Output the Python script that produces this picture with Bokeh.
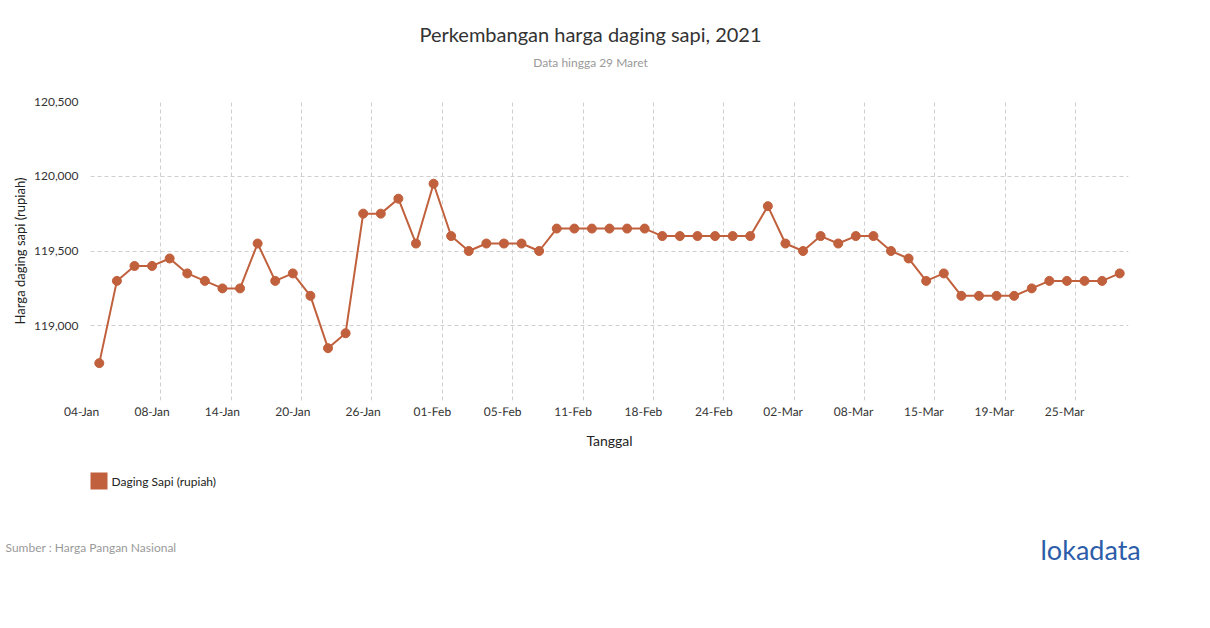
from bokeh.plotting import figure
from bokeh.models import FixedTicker, Range1d, NumeralTickFormatter
from bokeh.core.properties import value
from bokeh.embed import file_html
from bokeh.resources import INLINE

# ---- data ----
dates = [
    "04-Jan", "05-Jan", "06-Jan", "07-Jan", "08-Jan", "11-Jan", "12-Jan", "13-Jan", "14-Jan", "15-Jan",
    "18-Jan", "19-Jan", "20-Jan", "21-Jan", "22-Jan", "25-Jan", "26-Jan", "27-Jan", "28-Jan", "29-Jan",
    "01-Feb", "02-Feb", "03-Feb", "04-Feb", "05-Feb", "08-Feb", "09-Feb", "10-Feb", "11-Feb", "15-Feb",
    "16-Feb", "17-Feb", "18-Feb", "19-Feb", "22-Feb", "23-Feb", "24-Feb", "25-Feb", "26-Feb",
    "01-Mar", "02-Mar", "03-Mar", "04-Mar", "05-Mar", "08-Mar", "09-Mar", "10-Mar", "12-Mar", "15-Mar",
    "16-Mar", "17-Mar", "18-Mar", "19-Mar", "22-Mar", "23-Mar", "24-Mar", "25-Mar", "26-Mar", "29-Mar",
]
prices = [
    118750, 119300, 119400, 119400, 119450, 119350, 119300, 119250, 119250, 119550,
    119300, 119350, 119200, 118850, 118950, 119750, 119750, 119850, 119550, 119950,
    119600, 119500, 119550, 119550, 119550, 119500, 119650, 119650, 119650, 119650,
    119650, 119650, 119600, 119600, 119600, 119600, 119600, 119600, 119800, 119550,
    119500, 119600, 119550, 119600, 119600, 119500, 119450, 119300, 119350, 119200,
    119200, 119200, 119200, 119250, 119300, 119300, 119300, 119300, 119350,
]
y_ticks = [119000, 119500, 120000, 120500]
y_grid = [118500, 119000, 119500, 120000, 120500]
tick_every = 4
series_name = "Daging Sapi (rupiah)"
title_text = "Perkembangan harga daging sapi, 2021"
subtitle_text = "Data hingga 29 Maret"
x_title = "Tanggal"
y_title = "Harga daging sapi (rupiah)"
source_text = "Sumber : Harga Pangan Nasional"
brand_text = "lokadata"

COLOR = "#c1603c"
FONT = "Lato"
W = 1200
H_HEAD, H_MAIN, H_FOOT = 90, 370, 140

n = len(dates)
x = list(range(n))


def blank(h, y0):
    f = figure(width=W, height=h, output_backend="svg", toolbar_location=None,
               x_range=Range1d(0, W), y_range=Range1d(y0 + h, y0),
               x_axis_type=None, y_axis_type=None, min_border=0)
    f.outline_line_color = None
    f.grid.visible = False
    f.background_fill_color = "white"
    f.border_fill_color = "white"
    return f


def txt(f, text, x0, y0, size, color, align="left", style="normal"):
    f.text(x=[x0], y=[y0], text=[text], text_font=value(FONT), text_font_size=value(size),
           text_color=color, text_align=align, text_baseline="middle",
           text_font_style=style)


# ---- header ----
head = blank(H_HEAD, 0)
txt(head, title_text, 590, 33, "20px", "#333333", "center")
txt(head, subtitle_text, 590, 62, "12px", "#999999", "center")

# ---- main chart ----
p = figure(width=W, height=H_MAIN, output_backend="svg", toolbar_location=None,
           x_range=Range1d(-0.5, n - 0.5), y_range=Range1d(y_grid[0], y_grid[-1]),
           min_border_left=90, min_border_right=W - 1128, min_border_top=11, min_border_bottom=60)
p.outline_line_color = None
p.background_fill_color = "white"
p.border_fill_color = "white"

p.xgrid.ticker = FixedTicker(ticks=[i - 0.5 for i in range(0, n, tick_every)])
p.ygrid.ticker = FixedTicker(ticks=y_grid)
for g in (p.xgrid, p.ygrid):
    g.grid_line_color = "#cfcfcf"
    g.grid_line_dash = "4 3"
    g.grid_line_width = 1

xa = p.xaxis[0]
xa.ticker = FixedTicker(ticks=list(range(0, n, tick_every)))
xa.major_label_overrides = {i: dates[i] for i in range(0, n, tick_every)}
xa.major_label_orientation = 0.001
xa.axis_line_color = None
xa.major_tick_line_color = None
xa.minor_tick_line_color = None
xa.major_tick_out = 0
xa.major_label_standoff = 11
xa.major_label_text_font = FONT
xa.major_label_text_font_size = "12px"
xa.major_label_text_color = "#333333"
xa.axis_label = x_title
xa.axis_label_text_font = FONT
xa.axis_label_text_font_size = "14px"
xa.axis_label_text_font_style = "normal"
xa.axis_label_text_color = "#222222"
xa.axis_label_standoff = 2

ya = p.yaxis[0]
ya.ticker = FixedTicker(ticks=y_ticks)
ya.formatter = NumeralTickFormatter(format="0,0")
ya.axis_line_color = None
ya.major_tick_line_color = None
ya.minor_tick_line_color = None
ya.major_tick_out = 0
ya.major_label_standoff = 12
ya.major_label_text_font = FONT
ya.major_label_text_font_size = "12px"
ya.major_label_text_color = "#333333"
ya.axis_label = y_title
ya.axis_label_text_font = FONT
ya.axis_label_text_font_size = "13px"
ya.axis_label_text_font_style = "normal"
ya.axis_label_text_color = "#222222"
ya.axis_label_standoff = 3

p.line(x, prices, line_color=COLOR, line_width=2)
p.scatter(x, prices, size=9, fill_color=COLOR, line_color=COLOR)

# ---- footer: legend, source, brand ----
foot = blank(H_FOOT, H_HEAD + H_MAIN)
foot.rect(x=[98.5], y=[480.5], width=17, height=17, fill_color=COLOR, line_color=None)
txt(foot, series_name, 111, 480.5, "12px", "#222222")
txt(foot, source_text, 5, 547, "12px", "#9a9a9a")
txt(foot, brand_text, 1040, 549, "27px", "#2c5da8")

open("out.html", "w").write(file_html([head, p, foot], INLINE))
